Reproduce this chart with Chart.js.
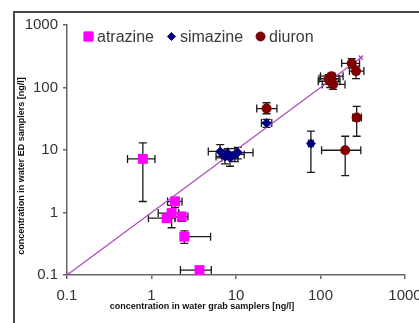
<!DOCTYPE html>
<html><head><meta charset="utf-8">
<script src="https://cdn.jsdelivr.net/npm/chart.js@4/dist/chart.umd.min.js"></script>
<style>html,body{margin:0;padding:0;background:#fff;}canvas{display:block;}</style>
</head><body>
<canvas id="c" width="419" height="323"></canvas>
<script>
// ---- data ----
const seriesNames = ['atrazine', 'simazine', 'diuron'];
const tickValues = [0.1, 1, 10, 100, 1000];
const tickLabels = ['0.1', '1', '10', '100', '1000'];
const xTitle = 'concentration in water grab samplers [ng/l]';
const yTitle = 'concentration in water ED samplers [ng/l]';

const atrazineX     = [0.79, 1.9, 1.73, 1.51, 2.28, 2.45, 3.7];
const atrazineY     = [7.2, 1.5, 0.98, 0.81, 0.86, 0.41, 0.12];
const atrazineXLow  = [0.52, 1.55, 1.2, 0.92, 1.9, 2.2, 2.2];
const atrazineXHigh = [1.1, 2.3, 2.1, 1.9, 2.7, 5.0, 5.1];
const atrazineYLow  = [1.5, 1.2, 0.57, 0.7, 0.72, 0.32, 0.12];
const atrazineYHigh = [13, 1.75, 1.3, 0.95, 1.0, 0.51, 0.12];

const simazineX     = [6.5, 7.4, 8.5, 9.7, 10.5, 8.0, 23, 77];
const simazineY     = [9.5, 7.9, 7.5, 8.5, 9.1, 8.8, 27, 12.7];
const simazineXLow  = [4.7, 5.8, 6.8, 7.8, 8.2, 6.5, 20, 72];
const simazineXHigh = [8.0, 9.2, 10.5, 12.5, 15.9, 9.8, 26.5, 82];
const simazineYLow  = [7.5, 6.0, 5.5, 6.5, 7.2, 7.0, 23, 4.4];
const simazineYHigh = [12.2, 10, 9.3, 10.5, 11, 10.5, 31, 20];

const diuronX     = [23, 130, 135, 141, 125, 234, 263, 268, 196];
const diuronY     = [46, 126, 152, 112, 138, 244, 183, 33, 9.9];
const diuronXLow  = [17.6, 94, 100, 105, 96, 178, 220, 240, 103];
const diuronXHigh = [30.5, 170, 185, 195, 165, 290, 326, 305, 300];
const diuronYLow  = [38, 100, 130, 93, 115, 205, 139, 16.6, 3.9];
const diuronYHigh = [57, 150, 168, 135, 160, 290, 220, 50, 16.6];

const lineX = [0.1, 300];
const lineY = [0.1, 300];

// ---- build ----
function pts(xs, ys) { return xs.map((x, i) => ({ x: x, y: ys[i] })); }

const errors = {
  atrazine: { xl: atrazineXLow, xh: atrazineXHigh, yl: atrazineYLow, yh: atrazineYHigh },
  simazine: { xl: simazineXLow, xh: simazineXHigh, yl: simazineYLow, yh: simazineYHigh },
  diuron:   { xl: diuronXLow,   xh: diuronXHigh,   yl: diuronYLow,   yh: diuronYHigh }
};

const errorBarPlugin = {
  id: 'errorBars',
  beforeDatasetsDraw(chart) {
    const ctx = chart.ctx, xs = chart.scales.x, ys = chart.scales.y;
    ctx.save();
    ctx.strokeStyle = '#1a1a1a';
    ctx.lineWidth = 1.3;
    const cap = 4;
    chart.data.datasets.forEach(ds => {
      const e = errors[ds.label];
      if (!e) return;
      ds.data.forEach((p, i) => {
        const px = xs.getPixelForValue(p.x), py = ys.getPixelForValue(p.y);
        const x1 = xs.getPixelForValue(e.xl[i]), x2 = xs.getPixelForValue(e.xh[i]);
        const y1 = ys.getPixelForValue(e.yl[i]), y2 = ys.getPixelForValue(e.yh[i]);
        ctx.beginPath();
        if (Math.abs(x2 - x1) > 1) {
          ctx.moveTo(x1, py); ctx.lineTo(x2, py);
          ctx.moveTo(x1, py - cap); ctx.lineTo(x1, py + cap);
          ctx.moveTo(x2, py - cap); ctx.lineTo(x2, py + cap);
        }
        if (Math.abs(y2 - y1) > 1) {
          ctx.moveTo(px, y1); ctx.lineTo(px, y2);
          ctx.moveTo(px - cap, y1); ctx.lineTo(px + cap, y1);
          ctx.moveTo(px - cap, y2); ctx.lineTo(px + cap, y2);
        }
        ctx.stroke();
      });
    });
    ctx.restore();
  }
};

const decorPlugin = {
  id: 'decor',
  beforeDraw(chart) {
    const ctx = chart.ctx;
    ctx.save();
    ctx.strokeStyle = '#4a4a4a';
    ctx.lineWidth = 2;
    ctx.beginPath();
    ctx.moveTo(14, 330); ctx.lineTo(14, 12); ctx.lineTo(430, 12);
    ctx.stroke();
    ctx.restore();
  },
  afterDraw(chart) {
    const ctx = chart.ctx;
    ctx.save();
    ctx.fillStyle = '#111';
    ctx.font = 'bold 9px Arial, "Liberation Sans", sans-serif';
    ctx.textAlign = 'center';
    ctx.textBaseline = 'middle';
    ctx.fillText(xTitle, 202, 307, 190);
    ctx.translate(22, 166);
    ctx.rotate(-Math.PI / 2);
    ctx.fillText(yTitle, 0, 0, 198);
    ctx.restore();

    // legend
    ctx.save();
    ctx.font = '16px Arial, "Liberation Sans", sans-serif';
    ctx.textBaseline = 'middle';
    ctx.textAlign = 'left';
    let x = 84;
    const y = 36.5;
    chart.data.datasets.forEach(ds => {
      if (!seriesNames.includes(ds.label)) return;
      ctx.fillStyle = ds.backgroundColor;
      ctx.strokeStyle = ds.borderColor;
      ctx.lineWidth = 1;
      Chart.helpers.drawPoint(ctx, { pointStyle: ds.pointStyle, radius: ds.legendRadius, rotation: 0, borderWidth: 1 }, x + 4.5, y);
      ctx.fillStyle = '#3a3a3a';
      ctx.fillText(ds.label, x + 13, y + 1);
      x = x + 13 + ctx.measureText(ds.label).width + 13;
    });
    ctx.restore();
  }
};

const axisCommon = {
  type: 'logarithmic',
  min: 0.1,
  max: 1000,
  border: { display: true, color: '#666', width: 1.5 },
  grid: { display: true, drawOnChartArea: false, drawTicks: true, tickLength: 4, color: '#666', lineWidth: 1.5 },
  ticks: {
    font: { family: 'Arial, "Liberation Sans", sans-serif', size: 15 },
    color: '#333',
    autoSkip: false,
    maxRotation: 0,
    callback: function (v) { const i = tickValues.indexOf(v); return i >= 0 ? tickLabels[i] : ''; }
  },
  afterBuildTicks: function (scale) { scale.ticks = tickValues.map(v => ({ value: v })); }
};

new Chart(document.getElementById('c'), {
  type: 'scatter',
  data: {
    datasets: [
      {
        label: 'line', type: 'line', data: pts(lineX, lineY),
        borderColor: '#b04cc0', backgroundColor: '#b04cc0', borderWidth: 1.3,
        pointStyle: 'crossRot', pointRadius: 3, pointBorderWidth: 1.5, order: 4
      },
      {
        label: 'atrazine', data: pts(atrazineX, atrazineY),
        backgroundColor: '#ff00ff', borderColor: '#ff00ff', pointStyle: 'rect',
        pointRadius: 7, pointBorderWidth: 0, legendRadius: 6.5, order: 3
      },
      {
        label: 'simazine', data: pts(simazineX, simazineY),
        backgroundColor: '#000080', borderColor: '#000080', pointStyle: 'rectRot',
        pointRadius: 5, pointBorderWidth: 0, legendRadius: 4, order: 2
      },
      {
        label: 'diuron', data: pts(diuronX, diuronY),
        backgroundColor: '#800000', borderColor: '#800000', pointStyle: 'circle',
        pointRadius: 5, pointBorderWidth: 0, legendRadius: 4.5, order: 1
      }
    ]
  },
  options: {
    responsive: false,
    animation: false,
    devicePixelRatio: 1,
    layout: { padding: { top: 25, right: 14, left: 0, bottom: 0 } },
    plugins: { legend: { display: false }, tooltip: { enabled: false } },
    scales: {
      x: Object.assign({}, axisCommon, {
        position: 'bottom',
        ticks: Object.assign({}, axisCommon.ticks, { padding: 8 }),
        afterFit: function (s) { s.height = 48; s.paddingLeft = 0; s.paddingRight = 0; }
      }),
      y: Object.assign({}, axisCommon, {
        position: 'left',
        ticks: Object.assign({}, axisCommon.ticks, { padding: 5 }),
        afterFit: function (s) { s.width = 67; s.paddingTop = 0; s.paddingBottom = 0; }
      })
    }
  },
  plugins: [errorBarPlugin, decorPlugin]
});
</script>
</body></html>
